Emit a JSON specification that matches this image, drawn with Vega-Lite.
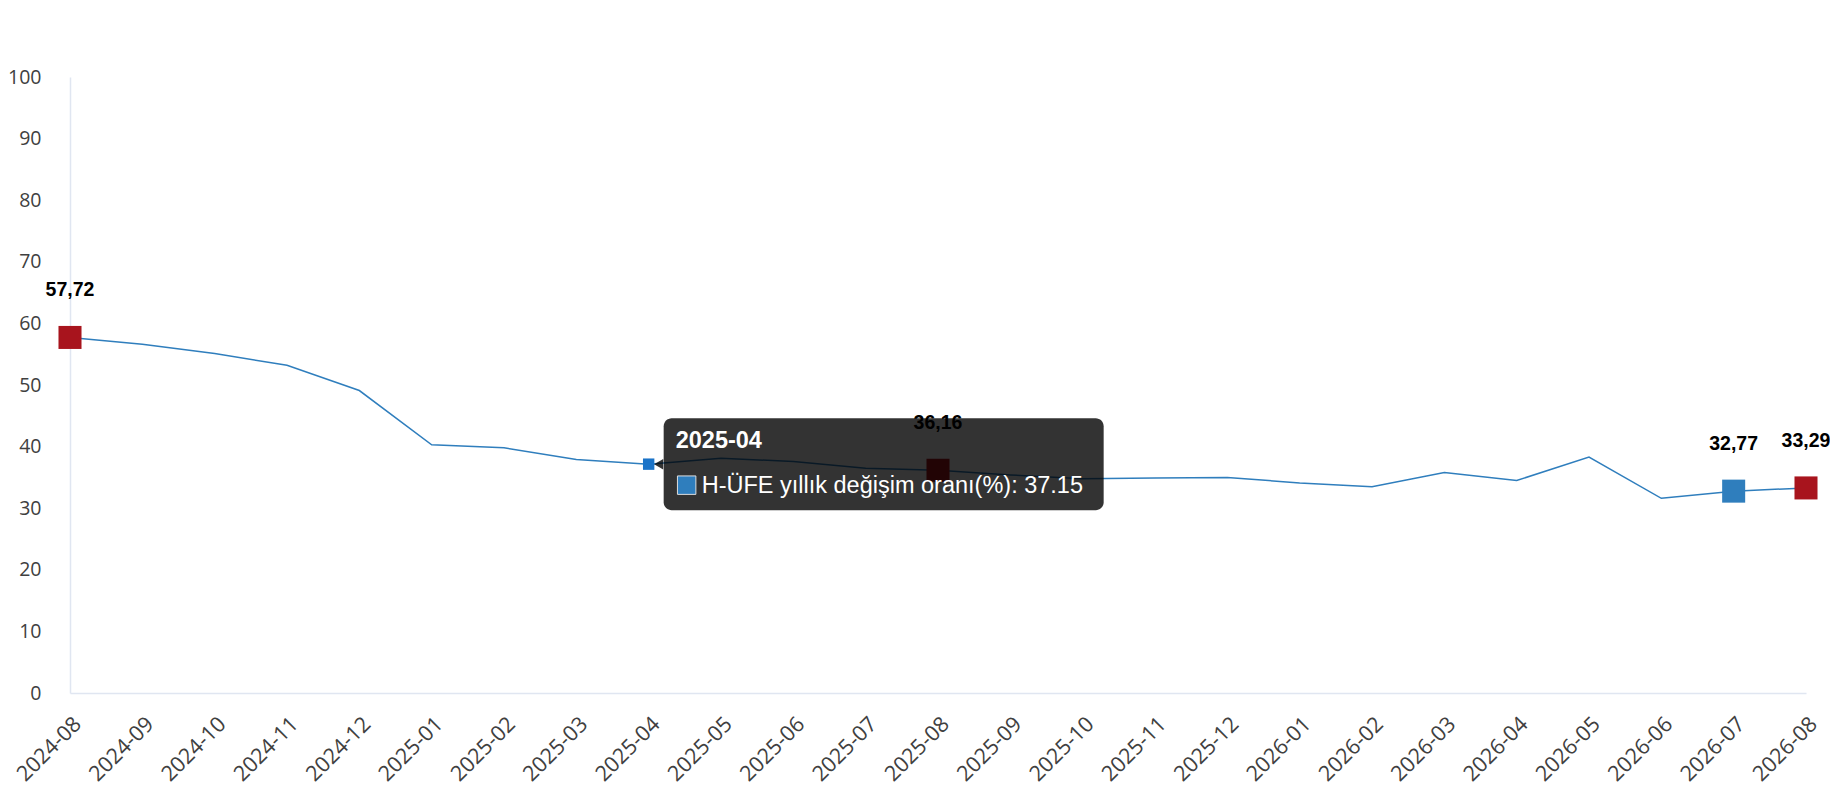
{
  "$schema": "https://vega.github.io/schema/vega-lite/v6.json",
  "width": 1736,
  "height": 616,
  "autosize": {"type": "none"},
  "padding": {"left": 70, "top": 77, "right": 24, "bottom": 107},
  "data": {
    "values": [
      {"month": "2024-08", "value": 57.72},
      {"month": "2024-09", "value": 56.6},
      {"month": "2024-10", "value": 55.1},
      {"month": "2024-11", "value": 53.2},
      {"month": "2024-12", "value": 49.1},
      {"month": "2025-01", "value": 40.3},
      {"month": "2025-02", "value": 39.8},
      {"month": "2025-03", "value": 37.9},
      {"month": "2025-04", "value": 37.15},
      {"month": "2025-05", "value": 38.1},
      {"month": "2025-06", "value": 37.6},
      {"month": "2025-07", "value": 36.5},
      {"month": "2025-08", "value": 36.16},
      {"month": "2025-09", "value": 35.4},
      {"month": "2025-10", "value": 34.8},
      {"month": "2025-11", "value": 34.9},
      {"month": "2025-12", "value": 35.0},
      {"month": "2026-01", "value": 34.1},
      {"month": "2026-02", "value": 33.5},
      {"month": "2026-03", "value": 35.8},
      {"month": "2026-04", "value": 34.5},
      {"month": "2026-05", "value": 38.3},
      {"month": "2026-06", "value": 31.6},
      {"month": "2026-07", "value": 32.77},
      {"month": "2026-08", "value": 33.29}
    ]
  },
  "encoding": {
    "x": {
      "field": "month",
      "type": "ordinal",
      "scale": {"type": "point", "padding": 0},
      "axis": {
        "title": null,
        "labelAngle": -45,
        "ticks": false,
        "domainColor": "#e0e6f1",
        "domainWidth": 1.5,
        "labelFont": "Open Sans",
        "labelFontSize": 21.5,
        "labelColor": "#404040",
        "labelPadding": 20
      }
    },
    "y": {
      "field": "value",
      "type": "quantitative",
      "scale": {"domain": [0, 100]},
      "axis": {
        "title": null,
        "values": [0, 10, 20, 30, 40, 50, 60, 70, 80, 90, 100],
        "grid": false,
        "ticks": false,
        "domainColor": "#e0e6f1",
        "domainWidth": 1.5,
        "labelFont": "Open Sans",
        "labelFontSize": 19.5,
        "labelColor": "#404040",
        "labelPadding": 29
      }
    }
  },
  "layer": [
    {
      "mark": {"type": "line", "color": "#2f7ebd", "strokeWidth": 1.5}
    },
    {
      "transform": [{"filter": "indexof(['2024-08','2025-08','2026-08'], datum.month) >= 0"}],
      "mark": {"type": "square", "size": 530, "opacity": 1, "color": "#a8141d"}
    },
    {
      "transform": [{"filter": "datum.month == '2026-07'"}],
      "mark": {"type": "square", "size": 530, "opacity": 1, "color": "#2f7ebd"}
    },
    {
      "transform": [{"filter": "datum.month == '2025-04'"}],
      "mark": {"type": "square", "size": 130, "opacity": 1, "color": "#1a73c8"}
    },
    {
      "transform": [{"filter": "datum.month == '2025-04'"}],
      "mark": {
        "type": "rect",
        "xOffset": 15,
        "x2Offset": 455,
        "yOffset": -46,
        "y2Offset": 46,
        "color": "black",
        "opacity": 0.8,
        "cornerRadius": 8
      },
      "encoding": {
        "x2": {"field": "month"},
        "y2": {"field": "value"}
      }
    },
    {
      "transform": [{"filter": "datum.month == '2025-04'"}],
      "mark": {"type": "point", "shape": "triangle-left", "filled": true, "size": 110, "xOffset": 10, "color": "black", "opacity": 0.8}
    },
    {
      "transform": [
        {"filter": "indexof(['2024-08','2025-08','2026-07','2026-08'], datum.month) >= 0"},
        {"calculate": "replace(format(datum.value, '.2f'), '.', ',')", "as": "lbl"}
      ],
      "mark": {"type": "text", "font": "Liberation Sans", "fontWeight": "bold", "fontSize": 19.5, "dy": -47, "color": "black"},
      "encoding": {"text": {"field": "lbl"}}
    },
    {
      "transform": [{"filter": "datum.month == '2025-04'"}],
      "mark": {"type": "text", "font": "Liberation Sans", "fontWeight": "bold", "fontSize": 23.5, "align": "left", "baseline": "middle", "dx": 27, "dy": -23, "color": "white"},
      "encoding": {"text": {"field": "month"}}
    },
    {
      "transform": [{"filter": "datum.month == '2025-04'"}],
      "mark": {"type": "square", "size": 340, "xOffset": 38, "yOffset": 21, "opacity": 1, "color": "#2f7ebd", "stroke": "#dddddd", "strokeWidth": 1}
    },
    {
      "transform": [
        {"filter": "datum.month == '2025-04'"},
        {"calculate": "'H-ÜFE yıllık değişim oranı(%): ' + datum.value", "as": "tip"}
      ],
      "mark": {"type": "text", "font": "Liberation Sans", "fontSize": 23.5, "align": "left", "baseline": "middle", "dx": 53, "dy": 22, "color": "white"},
      "encoding": {"text": {"field": "tip"}}
    }
  ],
  "config": {"view": {"stroke": null}}
}
